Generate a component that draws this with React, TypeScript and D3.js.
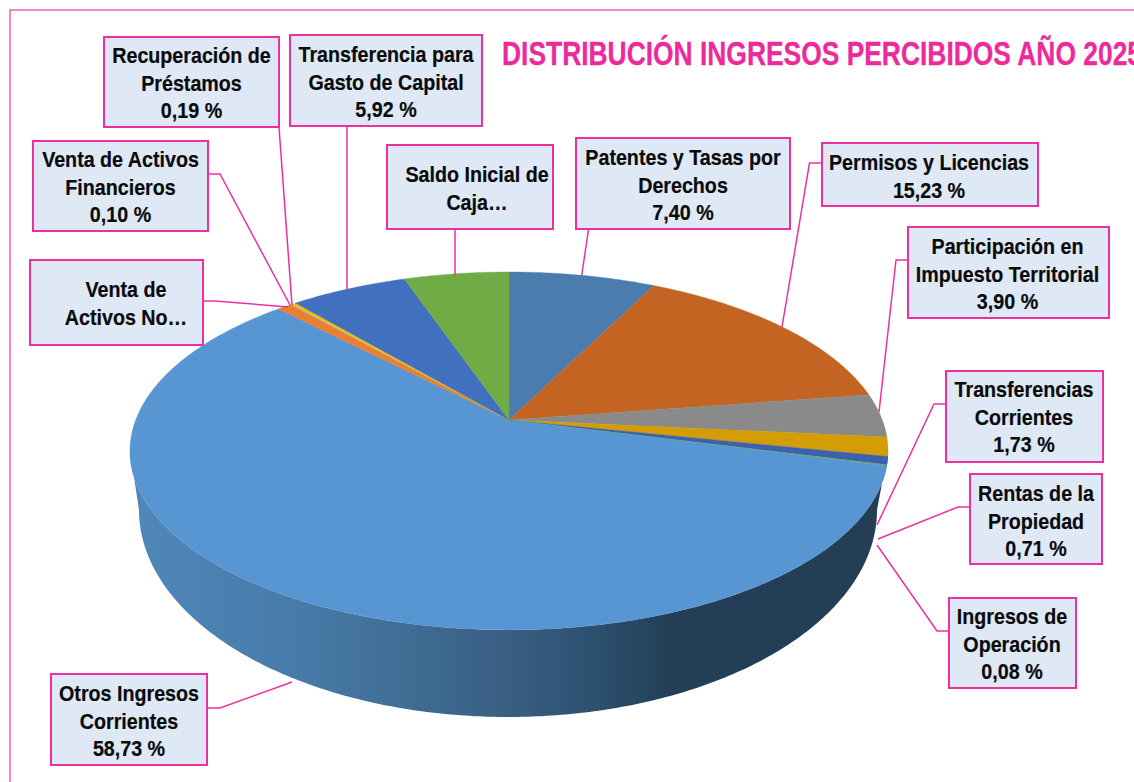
import React from "react";
import * as d3 from "d3";

const W = 1134;
const H = 782;

const titleText = "DISTRIBUCIÓN INGRESOS PERCIBIDOS AÑO 2025";

// Data, clockwise from 12 o'clock
const categories = [
  "Patentes y Tasas por Derechos",
  "Permisos y Licencias",
  "Participación en Impuesto Territorial",
  "Transferencias Corrientes",
  "Rentas de la Propiedad",
  "Ingresos de Operación",
  "Otros Ingresos Corrientes",
  "Venta de Activos No Financieros",
  "Venta de Activos Financieros",
  "Recuperación de Préstamos",
  "Transferencia para Gasto de Capital",
  "Saldo Inicial de Caja",
];
const values = [7.4, 15.23, 3.9, 1.73, 0.71, 0.08, 58.73, 0.72, 0.1, 0.19, 5.92, 5.29];
const sliceColors = [
  "#4A7DAE", "#C46423", "#8A8A8A", "#D49C05", "#3B62AD", "#6FA843",
  "#5896D3", "#EA7F2F", "#A5A5A5", "#F5C000", "#4170BE", "#70AB45",
];
const labelLines = [
  ["Patentes y Tasas por", "Derechos"],
  ["Permisos y Licencias"],
  ["Participación en", "Impuesto Territorial"],
  ["Transferencias", "Corrientes"],
  ["Rentas de la", "Propiedad"],
  ["Ingresos de", "Operación"],
  ["Otros Ingresos", "Corrientes"],
  ["Venta de", "Activos No…"],
  ["Venta de Activos", "Financieros"],
  ["Recuperación de", "Préstamos"],
  ["Transferencia para", "Gasto de Capital"],
  ["Saldo Inicial de", "Caja…"],
];
const showsValue = [true, true, true, true, true, true, true, false, true, true, true, false];

// Callout layout: box [x0, y0, x1, y1], text centre x, first baseline, leader polyline
const labelBoxes = [
  [576, 138, 790, 229], [822, 143, 1038, 206], [908, 227, 1109, 318], [946, 371, 1103, 462],
  [970, 474, 1102, 564], [949, 598, 1076, 688], [51, 674, 207, 765], [30, 260, 203, 345],
  [33, 141, 208, 231], [104, 37, 279, 127], [290, 35, 482, 126], [387, 145, 553, 229],
];
const labelText = [
  [683, 165], [929, 170], [1007.5, 254], [1024, 397], [1036, 501], [1012, 624],
  [129, 701], [126, 297], [120.5, 167], [191.5, 63], [386, 62], [477, 182],
];
const leaders = [
  [[588.6, 229], [581.6, 276]],
  [[822, 163], [809.5, 163], [782, 327]],
  [[908, 260], [896, 260], [879, 412]],
  [[946, 404], [934, 404], [877, 525]],
  [[970, 507], [958, 507], [878, 539]],
  [[949, 631], [937, 631], [877, 545]],
  [[207, 708], [220, 708], [292, 682]],
  [[203, 301], [215, 301], [288, 307]],
  [[208, 174], [220, 174], [290, 305]],
  [[279, 127], [292, 305]],
  [[347, 126], [347, 290]],
  [[455, 229], [455, 275]],
];

// 3D pie geometry: a circle seen in perspective
const apex = { x: 509, y: 420 };
const persp = 0.173;
const rx = 373.3;
const ry = 173.6;
const project = (a: number): [number, number] => {
  const u = Math.sin(a);
  const v = -Math.cos(a);
  const d = 1 - persp * v;
  return [apex.x + (rx * u) / d, apex.y + (ry * v) / d];
};
const base = { cx: 508, cy: 510, rx: 369, ry: 207 };
const line = d3.line();

const slicePath = (start: number, end: number) => {
  const n = Math.max(2, Math.ceil((end - start) / 0.01));
  const pts = d3.range(n + 1).map((i) => project(start + ((end - start) * i) / n));
  return line([[apex.x, apex.y], ...pts]) + "Z";
};

const wallPath = () => {
  const n = 240;
  const a0 = Math.PI / 2 + Math.asin(persp);
  const a1 = (3 * Math.PI) / 2 - Math.asin(persp);
  const topEdge = d3.range(n + 1).map((i) => project(a0 + ((a1 - a0) * i) / n));
  const bottomEdge = d3.range(n + 1).map((i) => {
    const a = (Math.PI * i) / n;
    return [base.cx - base.rx * Math.cos(a), base.cy + base.ry * Math.sin(a)] as [number, number];
  });
  return line([...topEdge, ...bottomEdge]) + "Z";
};

const valueFmt = (v: number) => d3.format(".2f")(v).replace(".", ",") + " %";

export default function App() {
  const arcs = d3.pie<number>().sort(null)(values);
  const textScale = 0.875;
  const pink = "#EE2FA0";
  return (
    <svg
      width={W}
      height={H}
      viewBox={`0 0 ${W} ${H}`}
      style={{ position: "absolute", left: 0, top: 0, display: "block", background: "#fff" }}
      fontFamily="'Liberation Sans', Arial, sans-serif"
    >
      <defs>
        <linearGradient id="wall" gradientUnits="userSpaceOnUse" x1={130} x2={888} y1={0} y2={0}>
          <stop offset="0" stopColor="#4F88BB" />
          <stop offset="0.22" stopColor="#477BA8" />
          <stop offset="0.49" stopColor="#396083" />
          <stop offset="0.62" stopColor="#2C4F6E" />
          <stop offset="0.71" stopColor="#233F57" />
          <stop offset="1" stopColor="#233E55" />
        </linearGradient>
      </defs>

      <rect x={10} y={10} width={2000} height={2000} fill="none" stroke="#F765BA" strokeWidth={1.6} />

      <path d={wallPath()} fill="url(#wall)" />
      {arcs.map((a, i) => (
        <path
          key={categories[i]}
          d={slicePath(a.startAngle, a.endAngle)}
          fill={sliceColors[i]}
          stroke={sliceColors[i]}
          strokeWidth={0.4}
        />
      ))}

      <text
        x={502}
        y={65}
        fontSize={33}
        fontWeight="bold"
        fill="#EC2A9B"
        stroke="#EC2A9B"
        strokeWidth={0.3}
        textLength={640}
        lengthAdjust="spacingAndGlyphs"
      >
        {titleText}
      </text>

      {leaders.map((pts, i) => (
        <path key={i} d={line(pts as [number, number][]) || ""} fill="none" stroke={pink} strokeWidth={1.5} />
      ))}

      {labelBoxes.map(([x0, y0, x1, y1], i) => {
        const lines = showsValue[i] ? [...labelLines[i], valueFmt(values[i])] : labelLines[i];
        const [tx, ty] = labelText[i];
        return (
          <g key={i}>
            <rect x={x0} y={y0} width={x1 - x0} height={y1 - y0} fill="#DEE9F5" stroke={pink} strokeWidth={2} />
            {lines.map((t, j) => (
              <text
                key={j}
                transform={`translate(${tx},${ty + j * 27.5}) scale(${textScale},1)`}
                textAnchor="middle"
                fontSize={22.5}
                fontWeight="bold"
                fill="#0A0A0A"
                stroke="#0A0A0A"
                strokeWidth={0.2}
              >
                {t}
              </text>
            ))}
          </g>
        );
      })}
    </svg>
  );
}
